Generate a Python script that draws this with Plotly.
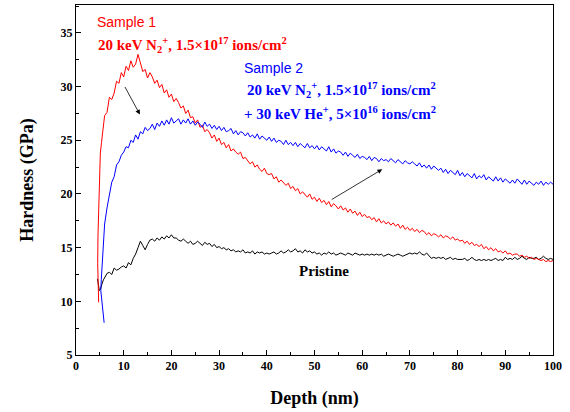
import plotly.graph_objects as go

# depth grid (nm) for the main part of each curve
depth = [6.0 + 0.5 * i for i in range(189)]

# start segments (indenter just touching surface)
red_head_x = [4.75, 4.6, 4.55, 4.6, 4.75, 4.9, 5.1, 5.35, 5.6, 5.8]
red_head_y = [9.9, 11.5, 13.5, 16.0, 19.0, 21.8, 23.8, 24.8, 25.8, 26.5]
blue_head_x = [5.9, 5.7, 5.5, 5.3, 5.2, 5.3, 5.45, 5.6, 5.8]
blue_head_y = [8.0, 8.8, 9.6, 10.3, 11.0, 12.0, 13.2, 14.6, 16.0]
black_head_x = [4.5, 4.7, 4.9, 5.1, 5.3, 5.5, 5.75]
black_head_y = [12.1, 11.5, 11.0, 11.1, 11.5, 11.7, 12.0]

sample1 = [
    27.3, 27.6, 29.0, 28.8, 29.4, 30.5, 30.3, 31.3, 30.9, 31.9,
    31.5, 32.4, 31.8, 32.1, 33.0, 32.2, 31.4, 31.6, 30.8, 31.3,
    30.9, 30.3, 30.6, 29.9, 30.2, 29.4, 29.7, 29.0, 29.3, 28.6,
    28.9, 28.5, 28.0, 28.2, 27.5, 27.8, 27.1, 27.2, 26.6, 26.9,
    26.2, 26.4, 25.8, 26.0, 25.7, 25.2, 25.5, 24.9, 25.2, 24.6,
    24.8, 24.3, 24.6, 24.0, 24.2, 23.9, 23.7, 23.9, 23.3, 23.4,
    23.1, 22.8, 23.0, 22.5, 22.7, 22.3, 22.1, 22.4, 21.9, 21.8,
    21.9, 21.4, 21.6, 21.1, 21.3, 21.0, 20.8, 21.0, 20.5, 20.7,
    20.3, 20.5, 20.0, 20.2, 19.9, 19.7, 20.0, 19.5, 19.7, 19.3,
    19.6, 19.2, 19.4, 19.0, 19.3, 18.8, 19.1, 18.9, 18.6, 18.9,
    18.5, 18.7, 18.3, 18.6, 18.2, 18.4, 18.0, 18.3, 17.9, 18.1,
    17.8, 17.9, 17.6, 17.8, 17.4, 17.7, 17.3, 17.5, 17.2, 17.4,
    17.1, 17.3, 17.0, 17.2, 16.8, 17.1, 16.7, 16.9, 16.6, 16.8,
    16.5, 16.7, 16.4, 16.6, 16.5, 16.2, 16.4, 16.1, 16.3, 16.2,
    16.0, 16.2, 15.9, 16.1, 16.0, 15.8, 16.0, 15.7, 15.8, 15.6,
    15.7, 15.4, 15.6, 15.3, 15.5, 15.2, 15.3, 15.1, 15.3, 14.9,
    15.1, 14.8, 15.0, 14.7, 14.9, 14.6, 14.7, 14.5, 14.7, 14.4,
    14.5, 14.3, 14.4, 14.4, 14.2, 14.3, 14.1, 14.2, 14.0, 14.1,
    13.9, 14.0, 13.9, 13.8, 13.9, 13.7, 13.8, 13.7, 13.8,
]

sample2 = [
    17.2, 18.7, 19.9, 21.1, 21.6, 22.7, 23.0, 23.6, 23.9, 24.4,
    24.3, 25.0, 24.8, 25.5, 25.1, 25.8, 25.6, 26.2, 25.9, 26.1,
    26.5, 26.0, 26.6, 26.3, 26.8, 26.4, 26.9, 26.5, 27.1, 26.6,
    26.8, 27.0, 26.5, 26.9, 26.6, 27.0, 26.5, 26.8, 26.4, 26.7,
    26.5, 26.2, 26.7, 26.3, 26.5, 26.1, 26.4, 26.0, 26.3, 25.9,
    26.2, 25.8, 25.9, 26.1, 25.6, 25.9, 25.5, 25.8, 25.7, 25.4,
    25.7, 25.3, 25.5, 25.2, 25.6, 25.1, 25.4, 25.2, 25.0, 25.3,
    24.9, 25.2, 24.8, 25.0, 24.9, 24.6, 25.0, 24.6, 24.8, 24.5,
    24.8, 24.4, 24.7, 24.5, 24.3, 24.7, 24.3, 24.5, 24.2, 24.5,
    24.1, 24.4, 24.2, 24.0, 24.4, 23.9, 24.2, 23.8, 24.0, 23.9,
    23.6, 23.9, 23.5, 23.8, 23.6, 23.4, 23.7, 23.3, 23.5, 23.4,
    23.2, 23.5, 23.1, 23.4, 23.3, 23.0, 23.3, 23.1, 23.2, 23.0,
    23.3, 23.1, 22.9, 23.2, 23.0, 22.8, 23.1, 22.9, 22.8, 23.0,
    22.8, 22.6, 22.9, 22.5, 22.7, 22.4, 22.7, 22.3, 22.6, 22.4,
    22.2, 22.4, 22.0, 22.3, 21.9, 22.2, 22.0, 21.8, 22.2, 21.7,
    22.0, 21.6, 21.9, 21.7, 21.5, 21.9, 21.4, 21.7, 21.5, 21.8,
    21.3, 21.6, 21.4, 21.2, 21.6, 21.2, 21.5, 21.1, 21.4, 21.2,
    21.0, 21.3, 21.0, 21.4, 21.1, 20.9, 21.3, 20.9, 21.2, 21.0,
    20.8, 21.1, 20.9, 21.2, 20.8, 21.1, 20.9, 21.1, 20.9,
]

pristine = [
    12.2, 12.6, 12.7, 12.5, 13.1, 12.9, 13.0, 13.2, 13.3, 13.1,
    13.6, 13.4, 14.0, 14.4, 15.0, 15.6, 15.2, 14.8, 15.3, 15.7,
    15.8, 15.6, 15.9, 15.7, 16.0, 15.8, 16.1, 15.9, 16.2, 15.9,
    15.9, 15.7, 15.6, 15.8, 15.6, 15.4, 15.6, 15.3, 15.4, 15.6,
    15.4, 15.2, 15.5, 15.3, 15.4, 15.1, 15.3, 15.0, 15.1, 14.9,
    15.0, 14.8, 14.9, 14.7, 14.8, 14.6, 14.7, 14.6, 14.8, 14.5,
    14.6, 14.5, 14.7, 14.4, 14.6, 14.5, 14.6, 14.4, 14.5, 14.4,
    14.5, 14.6, 14.4, 14.5, 14.7, 14.5, 14.6, 14.8, 14.6, 14.7,
    14.9, 14.6, 14.7, 14.5, 14.8, 14.6, 14.7, 14.5, 14.6, 14.4,
    14.5, 14.3, 14.5, 14.4, 14.6, 14.4, 14.5, 14.3, 14.4, 14.5,
    14.4, 14.3, 14.5, 14.4, 14.3, 14.5, 14.4, 14.3, 14.4, 14.3,
    14.4, 14.3, 14.4, 14.3, 14.4, 14.3, 14.4, 14.2, 14.3, 14.4,
    14.3, 14.2, 14.3, 14.4, 14.3, 14.2, 14.3, 14.4, 14.5, 14.4,
    14.5, 14.4, 14.6, 14.4, 14.3, 14.5, 14.2, 14.0, 14.1, 14.0,
    14.1, 14.0, 14.1, 13.9, 14.0, 14.1, 13.9, 14.0, 13.9, 13.9,
    13.9, 14.0, 13.8, 13.9, 14.1, 13.9, 13.8, 13.9, 13.8, 13.9,
    13.8, 13.9, 13.8, 13.9, 14.0, 13.8, 13.9, 13.8, 14.1, 13.9,
    14.0, 13.9, 14.1, 13.9, 14.0, 14.2, 14.0, 13.9, 14.1, 14.0,
    14.0, 14.1, 13.9, 14.0, 14.2, 14.0, 13.9, 14.0, 13.9,
]

x_ticks = [0, 10, 20, 30, 40, 50, 60, 70, 80, 90, 100]
y_ticks = [5, 10, 15, 20, 25, 30, 35]

SERIF = "Liberation Serif"
SANS = "Liberation Sans"

fig = go.Figure()
fig.add_trace(go.Scatter(x=black_head_x + depth, y=black_head_y + pristine, mode="lines",
                         line=dict(color="black", width=1), showlegend=False))
fig.add_trace(go.Scatter(x=red_head_x + depth, y=red_head_y + sample1, mode="lines",
                         line=dict(color="red", width=1), showlegend=False))
fig.add_trace(go.Scatter(x=blue_head_x + depth, y=blue_head_y + sample2, mode="lines",
                         line=dict(color="blue", width=1), showlegend=False))

def txt(x, y, text, color, font, size, bold):
    fig.add_annotation(x=x, y=y, xref="x", yref="y", text=text, showarrow=False,
                       xanchor="left", yanchor="middle",
                       font=dict(family=font, size=size, color=color,
                                 weight="bold" if bold else "normal"))

txt(4.0, 36.0, "Sample 1", "red", SANS, 14, False)
txt(4.2, 33.9, "20 keV N<sub>2</sub><sup>+</sup>, 1.5×10<sup>17</sup> ions/cm<sup>2</sup>", "red", SERIF, 15, True)
txt(34.8, 31.7, "Sample 2", "blue", SANS, 14, False)
txt(35.4, 29.7, "20 keV N<sub>2</sub><sup>+</sup>, 1.5×10<sup>17</sup> ions/cm<sup>2</sup>", "blue", SERIF, 15, True)
txt(34.8, 27.5, "+ 30 keV He<sup>+</sup>, 5×10<sup>16</sup> ions/cm<sup>2</sup>", "blue", SERIF, 15, True)
txt(46.3, 12.8, "Pristine", "black", SERIF, 15, True)

for (tx, ty, hx, hy) in [(10.1, 30.1, 13.4, 27.4), (53.3, 19.4, 64.2, 22.3)]:
    fig.add_annotation(x=hx, y=hy, ax=tx, ay=ty, xref="x", yref="y", axref="x", ayref="y",
                       text="", showarrow=True, arrowhead=2, arrowsize=1.2,
                       arrowwidth=0.8, arrowcolor="black")

axis_common = dict(showline=True, linecolor="black", linewidth=1, mirror=True,
                   ticks="inside", ticklen=5, tickwidth=1, tickcolor="black",
                   showgrid=False, zeroline=False,
                   tickfont=dict(family=SERIF, size=12, color="black", weight="bold"))

fig.update_xaxes(range=[0, 100], tickvals=x_ticks,
                 minor=dict(ticks="inside", ticklen=3, dtick=5, tick0=0, tickcolor="black"),
                 title=dict(text="Depth (nm)", standoff=18,
                            font=dict(family=SERIF, size=18, color="black", weight="bold")),
                 **axis_common)
fig.update_yaxes(range=[5, 37.6], tickvals=y_ticks,
                 minor=dict(ticks="inside", ticklen=3, dtick=2.5, tick0=5, tickcolor="black"),
                 title=dict(text="Hardness (GPa)", standoff=22,
                            font=dict(family=SERIF, size=18, color="black", weight="bold")),
                 **axis_common)

fig.update_layout(width=570, height=412, margin=dict(l=76, r=17, t=5, b=57),
                  plot_bgcolor="white", paper_bgcolor="white", showlegend=False)

fig.write_html("out.html", config={"displayModeBar": False},
               post_script="document.body.style.margin='0';")
